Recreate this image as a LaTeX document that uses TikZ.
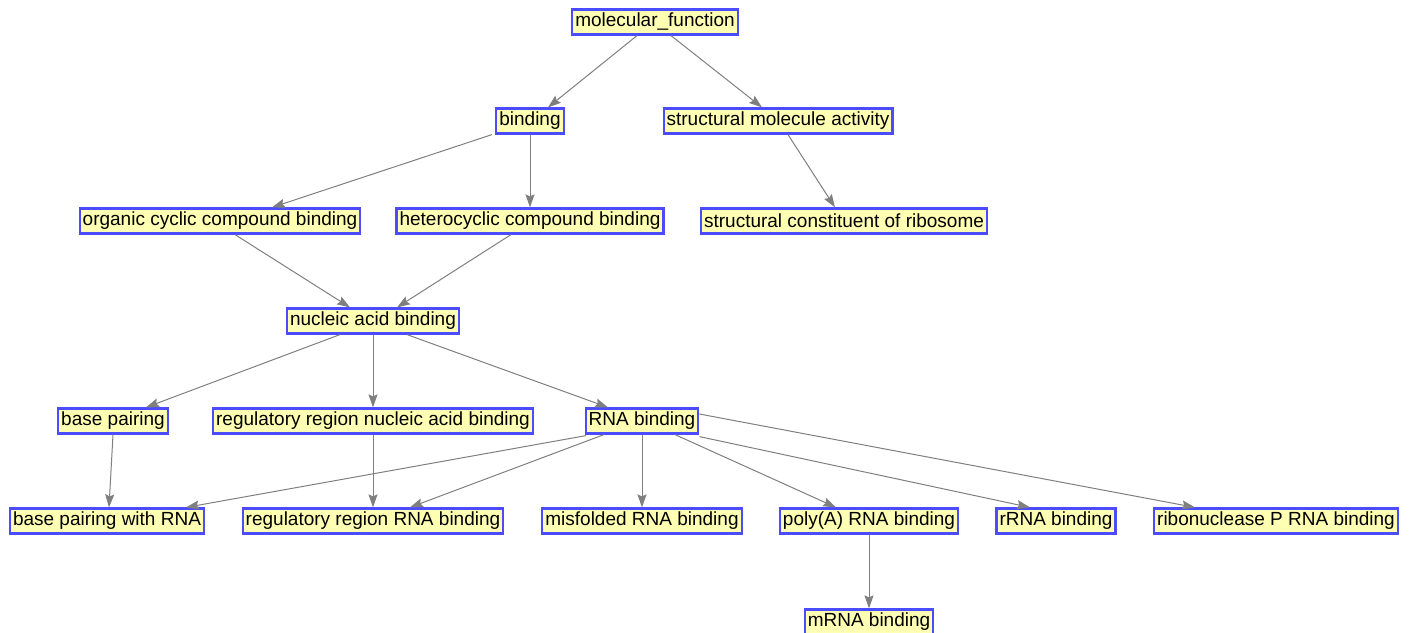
\documentclass[tikz,border=0pt]{standalone}
\usepackage{fontspec}
\setmainfont{Liberation Sans}
\usetikzlibrary{arrows.meta}
\definecolor{nodefill}{HTML}{FFFFB3}
\definecolor{nodeborder}{HTML}{4B4BFF}
\definecolor{edgecol}{HTML}{7F7F7F}
\begin{document}
\begin{tikzpicture}[x=1pt,y=-1pt,
  term/.style={draw=nodeborder,fill=nodefill,line width=2.2pt,inner xsep=3pt,inner ysep=0pt,
    minimum height=25pt,font=\fontsize{19}{21}\selectfont,anchor=center},
  edge/.style={draw=edgecol,line width=1pt,-{Stealth[length=13pt,width=9pt,inset=2pt]}}]
\useasboundingbox (0,0) rectangle (1413,632);
\node[term] (mf) at (655,22) {molecular\_function};
\node[term] (bind) at (530,121) {binding};
\node[term] (sma) at (778,121) {structural molecule activity};
\node[term] (occ) at (220,221) {organic cyclic compound binding};
\node[term] (hcb) at (530,221) {heterocyclic compound binding};
\node[term] (scr) at (844,221) {structural constituent of ribosome};
\node[term] (nab) at (373,321) {nucleic acid binding};
\node[term] (bp) at (113,421) {base pairing};
\node[term] (rrn) at (373,421) {regulatory region nucleic acid binding};
\node[term] (rna) at (642,421) {RNA binding};
\node[term] (bpr) at (107,521) {base pairing with RNA};
\node[term] (rrr) at (373,521) {regulatory region RNA binding};
\node[term] (mis) at (642,521) {misfolded RNA binding};
\node[term] (poly) at (869,521) {poly(A) RNA binding};
\node[term] (rrna) at (1056,521) {rRNA binding};
\node[term] (rnp) at (1276,521) {ribonuclease P RNA binding};
\node[term] (mrna) at (869,622) {mRNA binding};

\draw[edge] ([xshift=-18pt]mf.south) -- ([xshift=18pt]bind.north);
\draw[edge] ([xshift=16pt]mf.south) -- ([xshift=-16pt]sma.north);
\draw[edge] ([xshift=-38pt]bind.south) -- ([xshift=52pt]occ.north);
\draw[edge] (bind.south) -- (hcb.north);
\draw[edge] ([xshift=10pt]sma.south) -- ([xshift=-9pt]scr.north);
\draw[edge] ([xshift=15pt]occ.south) -- ([xshift=-23pt]nab.north);
\draw[edge] ([xshift=-19pt]hcb.south) -- ([xshift=24pt]nab.north);
\draw[edge] ([xshift=-33pt]nab.south) -- ([xshift=33pt]bp.north);
\draw[edge] (nab.south) -- (rrn.north);
\draw[edge] ([xshift=34pt]nab.south) -- ([xshift=-34pt]rna.north);
\draw[edge] (bp.south) -- ([xshift=2pt]bpr.north);
\draw[edge] (rrn.south) -- (rrr.north);
\draw[edge] ([xshift=-56pt,yshift=-1pt]rna.south) -- ([xshift=79pt]bpr.north);
\draw[edge] ([xshift=-38pt]rna.south) -- ([xshift=37pt]rrr.north);
\draw[edge] (rna.south) -- (mis.north);
\draw[edge] ([xshift=33pt]rna.south) -- ([xshift=-33pt]poly.north);
\draw[edge] ([yshift=-2pt]rna.south east) -- ([xshift=-26pt]rrna.north);
\draw[edge] ([yshift=7pt]rna.east) -- ([xshift=-81pt]rnp.north);
\draw[edge] (poly.south) -- (mrna.north);
\end{tikzpicture}
\end{document}
